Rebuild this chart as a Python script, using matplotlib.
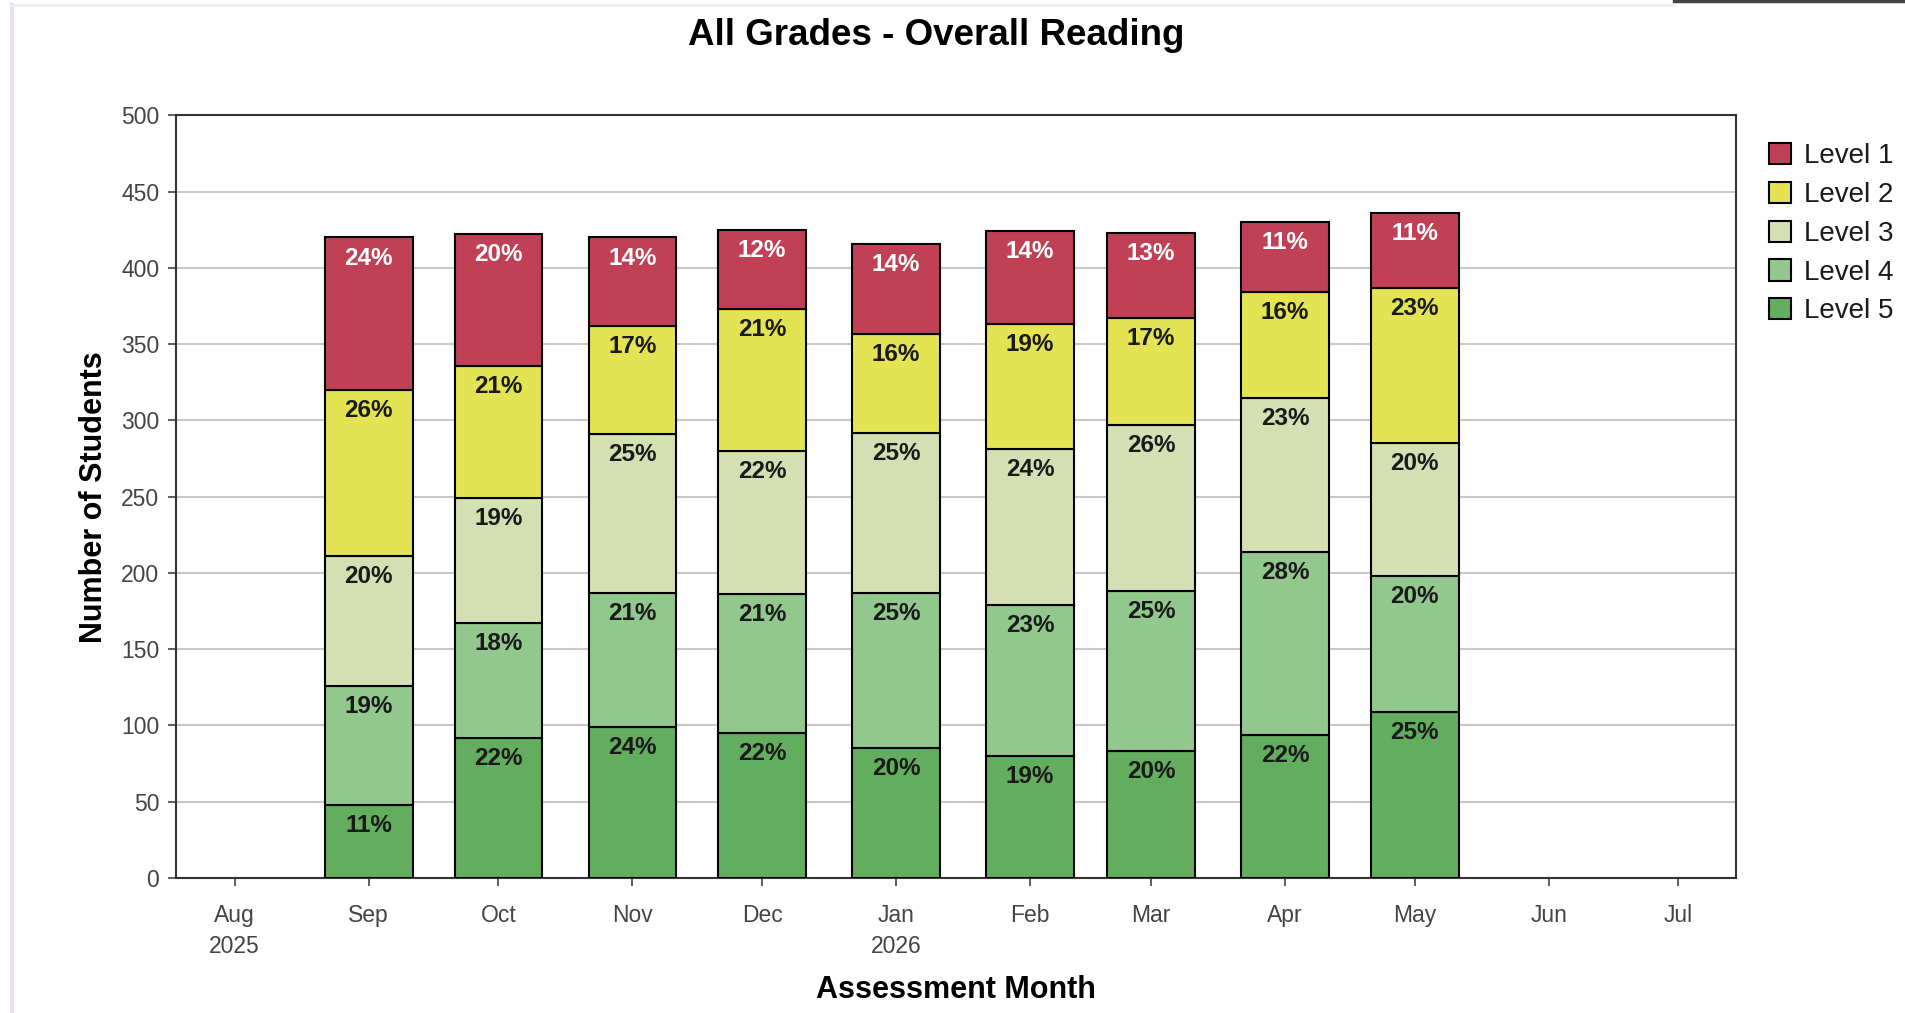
import numpy as np
import pandas as pd
import matplotlib
matplotlib.use("Agg")
import matplotlib.pyplot as plt
import matplotlib.dates as mdates

# %%
# data (counts of students per level, per month)
months = ["2025-09", "2025-10", "2025-11", "2025-12", "2026-01",
          "2026-02", "2026-03", "2026-04", "2026-05"]
level5 = [48, 92, 99, 95, 85, 80, 83, 94, 109]
level4 = [78, 75, 88, 91, 102, 99, 105, 120, 89]
level3 = [85, 82, 104, 94, 105, 102, 109, 101, 87]
level2 = [109, 87, 71, 93, 65, 82, 70, 69, 102]
level1 = [100, 86, 58, 52, 59, 61, 56, 46, 49]

# percentage labels as printed on the bars
pct5 = [11, 22, 24, 22, 20, 19, 20, 22, 25]
pct4 = [19, 18, 21, 21, 25, 23, 25, 28, 20]
pct3 = [20, 19, 25, 22, 25, 24, 26, 23, 20]
pct2 = [26, 21, 17, 21, 16, 19, 17, 16, 23]
pct1 = [24, 20, 14, 12, 14, 14, 13, 11, 11]

tick_months = ["2025-08", "2025-09", "2025-10", "2025-11", "2025-12", "2026-01",
               "2026-02", "2026-03", "2026-04", "2026-05", "2026-06", "2026-07"]
tick_labels = ["Aug\n2025", "Sep", "Oct", "Nov", "Dec", "Jan\n2026",
               "Feb", "Mar", "Apr", "May", "Jun", "Jul"]

level_names = ["Level 5", "Level 4", "Level 3", "Level 2", "Level 1"]
colors = ["#62AD5E", "#92C78E", "#D4E0B4", "#E3E354", "#C04155"]
txt_colors = ["#1a1a1a", "#1a1a1a", "#1a1a1a", "#1a1a1a", "white"]

# %%
plt.rcParams['font.family'] = ['Liberation Sans', 'DejaVu Sans']

x = mdates.date2num(pd.to_datetime(months))
xt = mdates.date2num(pd.to_datetime(tick_months))

fig = plt.figure(figsize=(19.06, 10.13), dpi=100)
ax = fig.add_axes([0.0923, 0.1333, 0.8185, 0.7527])

series = [level5, level4, level3, level2, level1]
pcts = [pct5, pct4, pct3, pct2, pct1]
bottom = np.zeros(len(months))
handles = []
for i, vals in enumerate(series):
    vals = np.array(vals)
    b = ax.bar(x, vals, width=20.3, bottom=bottom, color=colors[i],
               edgecolor="black", linewidth=1.5, zorder=3, label=level_names[i])
    handles.append(b)
    for j in range(len(months)):
        ax.annotate("%d%%" % pcts[i][j], (x[j], bottom[j] + vals[j]),
                    xytext=(0, -6.5), textcoords="offset points",
                    ha="center", va="top", fontsize=17.5, fontweight="bold",
                    color=txt_colors[i], zorder=4)
    bottom = bottom + vals

ax.set_ylim(0, 500)
ax.set_yticks(np.arange(0, 501, 50))
ax.set_xlim(xt[0] - 13.6, xt[-1] + 13.3)
ax.set_xticks(xt)
ax.set_xticklabels(tick_labels, linespacing=1.45)
ax.yaxis.grid(True, color="#c8c8c8", linewidth=1.5, zorder=0)
ax.set_axisbelow(True)
for s in ax.spines.values():
    s.set_color("#333333")
    s.set_linewidth(1.5)
ax.tick_params(axis="both", colors="#444444", labelsize=16.5, length=6, width=1.2)
ax.tick_params(axis="x", pad=13)
ax.tick_params(axis="y", pad=6)

ax.set_ylabel("Number of Students", fontsize=22, fontweight="bold", labelpad=9)
ax.set_xlabel("Assessment Month", fontsize=22, fontweight="bold", labelpad=12)
fig.text(0.4914, 0.965, "All Grades - Overall Reading", ha="center", va="center",
         fontsize=26.5, fontweight="bold")

leg = fig.legend(handles[::-1], level_names[::-1], loc="upper left",
                 bbox_to_anchor=(1769 / 1906, 1 - 143 / 1013), frameon=False,
                 fontsize=20, handlelength=0.8, handleheight=0.8,
                 handletextpad=0.45, labelspacing=0.45, borderpad=0, borderaxespad=0)
for t in leg.get_texts():
    t.set_color("#1a1a1a")

# faint page frame from the screenshot
fig.add_artist(plt.Line2D([12 / 1906, 12 / 1906], [0, 1 - 5 / 1013],
                          color="#ecdff0", linewidth=3, transform=fig.transFigure))
fig.add_artist(plt.Line2D([12 / 1906, 1674 / 1906], [1 - 5 / 1013, 1 - 5 / 1013],
                          color="#f3ebf5", linewidth=2, transform=fig.transFigure))
fig.add_artist(plt.Line2D([1674 / 1906, 1], [1 - 1 / 1013, 1 - 1 / 1013],
                          color="#444444", linewidth=2.5, transform=fig.transFigure))

fig.savefig("out.png", dpi=100)
plt.close('all')
